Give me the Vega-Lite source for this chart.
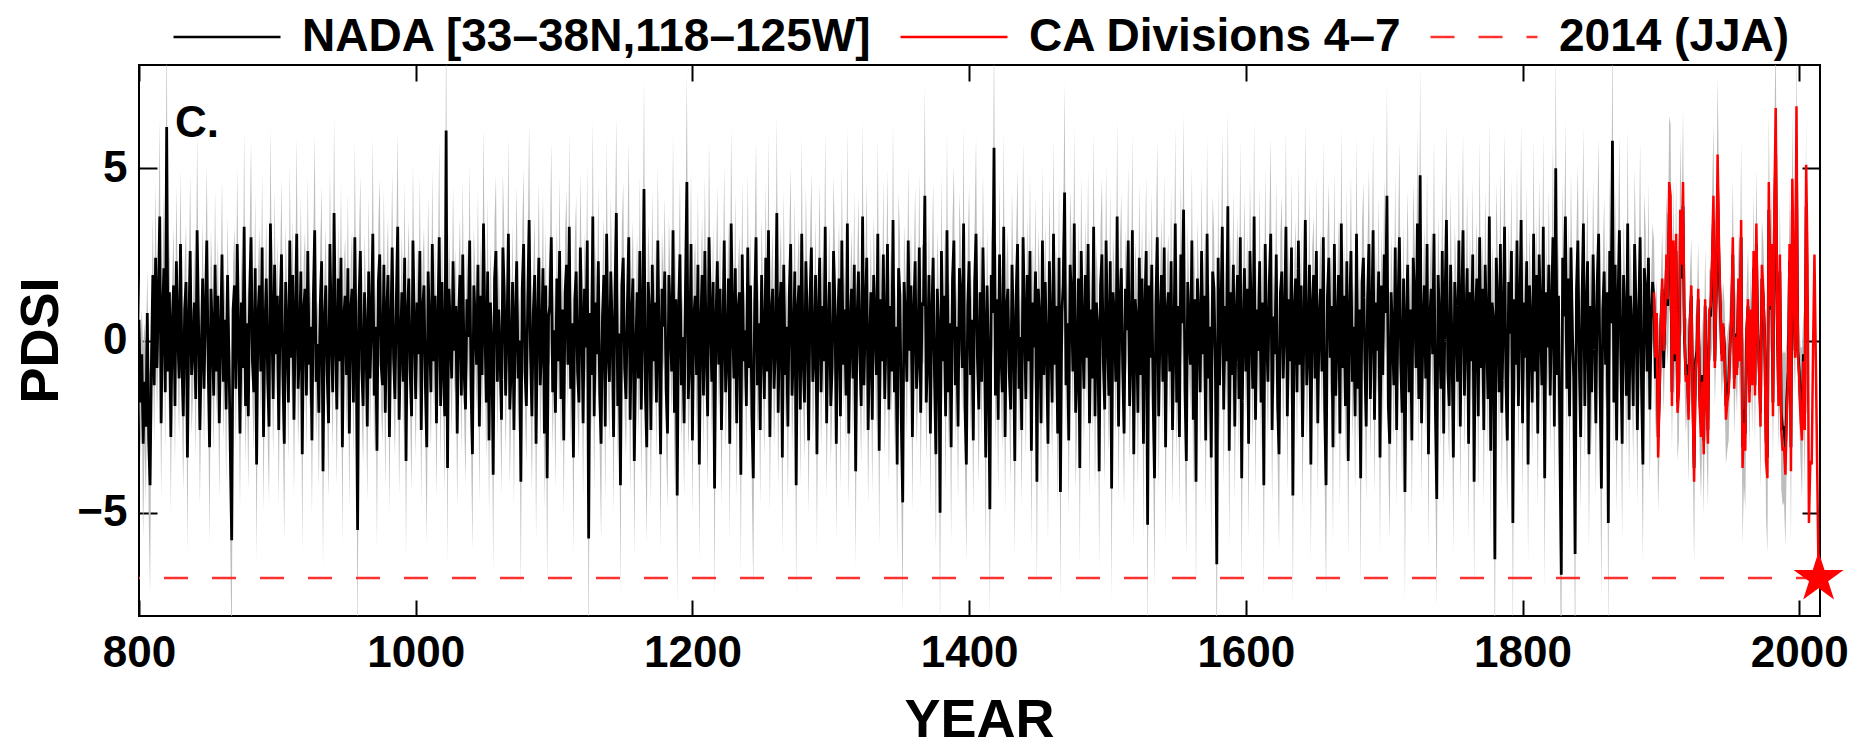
{
"$schema":"https://vega.github.io/schema/vega-lite/v6.json",
"width":1681,"height":551,"autosize":"none",
"padding":{"left":139,"top":65,"right":38,"bottom":133},
"background":"white",
"config":{"view":{"stroke":"#000000","strokeWidth":2},"font":"Liberation Sans",
"errorband":{"band":{"opacity":1}},
"axis":{"labelFont":"Liberation Sans","labelFontWeight":"bold","titleFont":"Liberation Sans","titleFontWeight":"bold","labelColor":"#000000","titleColor":"#000000","grid":false,"domain":false,"tickColor":"#000000","tickWidth":2}},
"datasets":{
"nada":[
{"t":800,"v":0.6,"e":1.3},{"t":801,"v":-1.8,"e":1.7},{"t":802,"v":-0.4,"e":1.3},{"t":803,"v":-3.0,"e":2.8},{"t":804,"v":-1.2,"e":1.7},{"t":805,"v":-2.5,"e":2.2},{"t":806,"v":0.8,"e":1.3},{"t":807,"v":-2.9,"e":2.2},{"t":808,"v":-4.2,"e":3.2},{"t":809,"v":-0.6,"e":1.3},
{"t":810,"v":1.9,"e":1.7},{"t":811,"v":-1.3,"e":1.7},{"t":812,"v":2.4,"e":2.2},{"t":813,"v":-0.8,"e":1.3},{"t":814,"v":1.2,"e":1.7},{"t":815,"v":3.6,"e":2.8},{"t":816,"v":-2.4,"e":2.2},{"t":817,"v":0.7,"e":1.3},{"t":818,"v":2.1,"e":2.2},{"t":819,"v":-1.5,"e":1.7},
{"t":820,"v":6.2,"e":3.5},{"t":821,"v":-0.9,"e":1.3},{"t":822,"v":1.4,"e":1.7},{"t":823,"v":-2.8,"e":2.2},{"t":824,"v":0.5,"e":1.3},{"t":825,"v":1.6,"e":1.7},{"t":826,"v":-1.9,"e":1.7},{"t":827,"v":2.3,"e":2.2},{"t":828,"v":0.2,"e":1.3},{"t":829,"v":-1.1,"e":1.7},
{"t":830,"v":2.8,"e":2.2},{"t":831,"v":-0.6,"e":1.3},{"t":832,"v":-2.2,"e":2.2},{"t":833,"v":0.9,"e":1.3},{"t":834,"v":1.7,"e":1.7},{"t":835,"v":-3.4,"e":2.8},{"t":836,"v":0.4,"e":1.3},{"t":837,"v":2.6,"e":2.2},{"t":838,"v":-1.0,"e":1.7},{"t":839,"v":-0.3,"e":1.3},
{"t":840,"v":1.1,"e":1.7},{"t":841,"v":-1.7,"e":1.7},{"t":842,"v":3.2,"e":2.8},{"t":843,"v":0.6,"e":1.3},{"t":844,"v":-2.6,"e":2.2},{"t":845,"v":-0.4,"e":1.3},{"t":846,"v":1.8,"e":1.7},{"t":847,"v":-1.4,"e":1.7},{"t":848,"v":0.8,"e":1.3},{"t":849,"v":2.9,"e":2.2},
{"t":850,"v":-0.7,"e":1.3},{"t":851,"v":-3.1,"e":2.8},{"t":852,"v":1.5,"e":1.7},{"t":853,"v":0.3,"e":1.3},{"t":854,"v":-1.6,"e":1.7},{"t":855,"v":2.2,"e":2.2},{"t":856,"v":-0.9,"e":1.3},{"t":857,"v":1.3,"e":1.7},{"t":858,"v":-2.4,"e":2.2},{"t":859,"v":0.1,"e":1.3},
{"t":860,"v":2.5,"e":2.2},{"t":861,"v":-1.2,"e":1.7},{"t":862,"v":0.6,"e":1.3},{"t":863,"v":-2.0,"e":2.2},{"t":864,"v":1.9,"e":1.7},{"t":865,"v":-0.5,"e":1.3},{"t":866,"v":-3.2,"e":2.8},{"t":867,"v":-5.8,"e":3.5},{"t":868,"v":0.9,"e":1.3},{"t":869,"v":1.6,"e":1.7},
{"t":870,"v":-1.4,"e":1.7},{"t":871,"v":2.8,"e":2.2},{"t":872,"v":0.2,"e":1.3},{"t":873,"v":-2.7,"e":2.2},{"t":874,"v":1.1,"e":1.7},{"t":875,"v":-0.8,"e":1.3},{"t":876,"v":3.3,"e":2.8},{"t":877,"v":-1.9,"e":1.7},{"t":878,"v":0.5,"e":1.3},{"t":879,"v":-2.2,"e":2.2},
{"t":880,"v":1.4,"e":1.7},{"t":881,"v":3.0,"e":2.8},{"t":882,"v":-0.6,"e":1.3},{"t":883,"v":-1.5,"e":1.7},{"t":884,"v":2.1,"e":2.2},{"t":885,"v":-3.6,"e":2.8},{"t":886,"v":0.7,"e":1.3},{"t":887,"v":1.6,"e":1.7},{"t":888,"v":-0.9,"e":1.3},{"t":889,"v":2.7,"e":2.2},
{"t":890,"v":-2.8,"e":2.2},{"t":891,"v":0.3,"e":1.3},{"t":892,"v":1.8,"e":1.7},{"t":893,"v":-1.1,"e":1.7},{"t":894,"v":-2.5,"e":2.2},{"t":895,"v":3.4,"e":2.8},{"t":896,"v":0.6,"e":1.3},{"t":897,"v":-1.7,"e":1.7},{"t":898,"v":2.2,"e":2.2},{"t":899,"v":-0.4,"e":1.3},
{"t":900,"v":1.3,"e":1.7},{"t":901,"v":-2.6,"e":2.2},{"t":902,"v":0.8,"e":1.3},{"t":903,"v":2.5,"e":2.2},{"t":904,"v":-1.0,"e":1.7},{"t":905,"v":-3.0,"e":2.8},{"t":906,"v":1.7,"e":1.7},{"t":907,"v":0.2,"e":1.3},{"t":908,"v":-1.8,"e":1.7},{"t":909,"v":2.9,"e":2.2},
{"t":910,"v":-0.5,"e":1.3},{"t":911,"v":1.9,"e":1.7},{"t":912,"v":-2.3,"e":2.2},{"t":913,"v":0.6,"e":1.3},{"t":914,"v":3.1,"e":2.8},{"t":915,"v":-1.4,"e":1.7},{"t":916,"v":-0.2,"e":1.3},{"t":917,"v":2.0,"e":2.2},{"t":918,"v":-3.3,"e":2.8},{"t":919,"v":0.9,"e":1.3},
{"t":920,"v":1.5,"e":1.7},{"t":921,"v":-1.6,"e":1.7},{"t":922,"v":2.6,"e":2.2},{"t":923,"v":-0.7,"e":1.3},{"t":924,"v":0.4,"e":1.3},{"t":925,"v":-2.9,"e":2.2},{"t":926,"v":1.2,"e":1.7},{"t":927,"v":3.2,"e":2.8},{"t":928,"v":-1.2,"e":1.7},{"t":929,"v":-0.1,"e":1.3},
{"t":930,"v":-2.1,"e":2.2},{"t":931,"v":1.0,"e":1.7},{"t":932,"v":2.3,"e":2.2},{"t":933,"v":-3.8,"e":2.8},{"t":934,"v":0.5,"e":1.3},{"t":935,"v":1.6,"e":1.7},{"t":936,"v":-0.9,"e":1.3},{"t":937,"v":-2.4,"e":2.2},{"t":938,"v":2.8,"e":2.2},{"t":939,"v":0.3,"e":1.3},
{"t":940,"v":-1.5,"e":1.7},{"t":941,"v":3.7,"e":2.8},{"t":942,"v":0.1,"e":1.3},{"t":943,"v":-2.0,"e":2.2},{"t":944,"v":1.8,"e":1.7},{"t":945,"v":-0.6,"e":1.3},{"t":946,"v":2.4,"e":2.2},{"t":947,"v":-3.1,"e":2.8},{"t":948,"v":0.7,"e":1.3},{"t":949,"v":1.3,"e":1.7},
{"t":950,"v":-1.0,"e":1.7},{"t":951,"v":2.1,"e":2.2},{"t":952,"v":-2.7,"e":2.2},{"t":953,"v":0.9,"e":1.3},{"t":954,"v":1.5,"e":1.7},{"t":955,"v":-1.8,"e":1.7},{"t":956,"v":3.0,"e":2.8},{"t":957,"v":-0.3,"e":1.3},{"t":958,"v":-5.5,"e":3.5},{"t":959,"v":1.1,"e":1.7},
{"t":960,"v":2.6,"e":2.2},{"t":961,"v":-0.8,"e":1.3},{"t":962,"v":-1.9,"e":1.7},{"t":963,"v":1.4,"e":1.7},{"t":964,"v":0.2,"e":1.3},{"t":965,"v":-2.5,"e":2.2},{"t":966,"v":2.0,"e":2.2},{"t":967,"v":-1.1,"e":1.7},{"t":968,"v":0.6,"e":1.3},{"t":969,"v":3.1,"e":2.8},
{"t":970,"v":-1.6,"e":1.7},{"t":971,"v":0.4,"e":1.3},{"t":972,"v":-3.2,"e":2.8},{"t":973,"v":1.7,"e":1.7},{"t":974,"v":2.5,"e":2.2},{"t":975,"v":-0.7,"e":1.3},{"t":976,"v":-1.3,"e":1.7},{"t":977,"v":2.2,"e":2.2},{"t":978,"v":-2.1,"e":2.2},{"t":979,"v":0.8,"e":1.3},
{"t":980,"v":1.9,"e":1.7},{"t":981,"v":-2.8,"e":2.2},{"t":982,"v":0.3,"e":1.3},{"t":983,"v":2.7,"e":2.2},{"t":984,"v":-0.5,"e":1.3},{"t":985,"v":-1.7,"e":1.7},{"t":986,"v":1.2,"e":1.7},{"t":987,"v":3.3,"e":2.8},{"t":988,"v":-2.3,"e":2.2},{"t":989,"v":-0.2,"e":1.3},
{"t":990,"v":1.4,"e":1.7},{"t":991,"v":-1.2,"e":1.7},{"t":992,"v":2.4,"e":2.2},{"t":993,"v":-3.5,"e":2.8},{"t":994,"v":0.7,"e":1.3},{"t":995,"v":1.8,"e":1.7},{"t":996,"v":-0.9,"e":1.3},{"t":997,"v":-2.2,"e":2.2},{"t":998,"v":2.9,"e":2.2},{"t":999,"v":0.5,"e":1.3},
{"t":1000,"v":-1.7,"e":1.7},{"t":1001,"v":1.1,"e":1.7},{"t":1002,"v":-0.4,"e":1.3},{"t":1003,"v":2.6,"e":2.2},{"t":1004,"v":-2.6,"e":2.2},{"t":1005,"v":0.9,"e":1.3},{"t":1006,"v":1.6,"e":1.7},{"t":1007,"v":-1.3,"e":1.7},{"t":1008,"v":-3.1,"e":2.8},{"t":1009,"v":2.0,"e":2.2},
{"t":1010,"v":0.2,"e":1.3},{"t":1011,"v":-1.5,"e":1.7},{"t":1012,"v":2.8,"e":2.2},{"t":1013,"v":-0.6,"e":1.3},{"t":1014,"v":1.3,"e":1.7},{"t":1015,"v":-2.4,"e":2.2},{"t":1016,"v":0.5,"e":1.3},{"t":1017,"v":3.0,"e":2.8},{"t":1018,"v":-1.9,"e":1.7},{"t":1019,"v":1.7,"e":1.7},
{"t":1020,"v":-0.8,"e":1.3},{"t":1021,"v":-2.2,"e":2.2},{"t":1022,"v":6.1,"e":3.5},{"t":1023,"v":-3.7,"e":2.8},{"t":1024,"v":1.5,"e":1.7},{"t":1025,"v":0.4,"e":1.3},{"t":1026,"v":-1.1,"e":1.7},{"t":1027,"v":2.3,"e":2.2},{"t":1028,"v":-0.3,"e":1.3},{"t":1029,"v":1.0,"e":1.7},
{"t":1030,"v":-2.7,"e":2.2},{"t":1031,"v":0.7,"e":1.3},{"t":1032,"v":1.9,"e":1.7},{"t":1033,"v":-1.6,"e":1.7},{"t":1034,"v":2.5,"e":2.2},{"t":1035,"v":-0.9,"e":1.3},{"t":1036,"v":-2.0,"e":2.2},{"t":1037,"v":1.2,"e":1.7},{"t":1038,"v":0.1,"e":1.3},{"t":1039,"v":2.9,"e":2.2},
{"t":1040,"v":-1.4,"e":1.7},{"t":1041,"v":-3.3,"e":2.8},{"t":1042,"v":1.6,"e":1.7},{"t":1043,"v":0.6,"e":1.3},{"t":1044,"v":-0.7,"e":1.3},{"t":1045,"v":2.2,"e":2.2},{"t":1046,"v":-2.5,"e":2.2},{"t":1047,"v":1.3,"e":1.7},{"t":1048,"v":-1.0,"e":1.7},{"t":1049,"v":3.4,"e":2.8},
{"t":1050,"v":0.4,"e":1.3},{"t":1051,"v":-1.8,"e":1.7},{"t":1052,"v":2.0,"e":2.2},{"t":1053,"v":-2.9,"e":2.2},{"t":1054,"v":1.1,"e":1.7},{"t":1055,"v":-0.2,"e":1.3},{"t":1056,"v":-3.9,"e":2.8},{"t":1057,"v":1.8,"e":1.7},{"t":1058,"v":2.6,"e":2.2},{"t":1059,"v":-1.2,"e":1.7},
{"t":1060,"v":0.9,"e":1.3},{"t":1061,"v":-0.5,"e":1.3},{"t":1062,"v":-2.3,"e":2.2},{"t":1063,"v":2.7,"e":2.2},{"t":1064,"v":1.4,"e":1.7},{"t":1065,"v":-1.6,"e":1.7},{"t":1066,"v":0.3,"e":1.3},{"t":1067,"v":3.1,"e":2.8},{"t":1068,"v":-2.0,"e":2.2},{"t":1069,"v":-0.8,"e":1.3},
{"t":1070,"v":1.7,"e":1.7},{"t":1071,"v":-2.6,"e":2.2},{"t":1072,"v":0.6,"e":1.3},{"t":1073,"v":2.3,"e":2.2},{"t":1074,"v":-1.1,"e":1.7},{"t":1075,"v":0.0,"e":1.3},{"t":1076,"v":-4.1,"e":3.2},{"t":1077,"v":1.5,"e":1.7},{"t":1078,"v":2.8,"e":2.2},{"t":1079,"v":-0.9,"e":1.3},
{"t":1080,"v":-1.9,"e":1.7},{"t":1081,"v":1.2,"e":1.7},{"t":1082,"v":3.5,"e":2.8},{"t":1083,"v":-0.4,"e":1.3},{"t":1084,"v":-2.2,"e":2.2},{"t":1085,"v":0.8,"e":1.3},{"t":1086,"v":1.9,"e":1.7},{"t":1087,"v":-3.0,"e":2.8},{"t":1088,"v":0.5,"e":1.3},{"t":1089,"v":2.4,"e":2.2},
{"t":1090,"v":-1.3,"e":1.7},{"t":1091,"v":-0.1,"e":1.3},{"t":1092,"v":2.1,"e":2.2},{"t":1093,"v":-2.7,"e":2.2},{"t":1094,"v":1.6,"e":1.7},{"t":1095,"v":-4.0,"e":3.2},{"t":1096,"v":0.7,"e":1.3},{"t":1097,"v":1.0,"e":1.7},{"t":1098,"v":3.0,"e":2.8},{"t":1099,"v":-1.5,"e":1.7},
{"t":1100,"v":0.3,"e":1.3},{"t":1101,"v":-2.1,"e":2.2},{"t":1102,"v":1.8,"e":1.7},{"t":1103,"v":-0.6,"e":1.3},{"t":1104,"v":2.6,"e":2.2},{"t":1105,"v":-1.7,"e":1.7},{"t":1106,"v":0.9,"e":1.3},{"t":1107,"v":-2.9,"e":2.2},{"t":1108,"v":1.4,"e":1.7},{"t":1109,"v":2.2,"e":2.2},
{"t":1110,"v":-0.7,"e":1.3},{"t":1111,"v":3.3,"e":2.8},{"t":1112,"v":-1.4,"e":1.7},{"t":1113,"v":0.5,"e":1.3},{"t":1114,"v":-3.4,"e":2.8},{"t":1115,"v":1.2,"e":1.7},{"t":1116,"v":2.0,"e":2.2},{"t":1117,"v":-0.9,"e":1.3},{"t":1118,"v":-1.8,"e":1.7},{"t":1119,"v":2.7,"e":2.2},
{"t":1120,"v":0.6,"e":1.3},{"t":1121,"v":-2.4,"e":2.2},{"t":1122,"v":1.5,"e":1.7},{"t":1123,"v":-0.2,"e":1.3},{"t":1124,"v":2.9,"e":2.2},{"t":1125,"v":-5.75,"e":3.5},{"t":1126,"v":0.8,"e":1.3},{"t":1127,"v":-1.0,"e":1.7},{"t":1128,"v":3.6,"e":2.8},{"t":1129,"v":-2.2,"e":2.2},
{"t":1130,"v":1.1,"e":1.7},{"t":1131,"v":-0.4,"e":1.3},{"t":1132,"v":2.3,"e":2.2},{"t":1133,"v":-1.6,"e":1.7},{"t":1134,"v":-3.0,"e":2.8},{"t":1135,"v":0.7,"e":1.3},{"t":1136,"v":1.9,"e":1.7},{"t":1137,"v":-2.5,"e":2.2},{"t":1138,"v":3.1,"e":2.8},{"t":1139,"v":-0.3,"e":1.3},
{"t":1140,"v":-1.2,"e":1.7},{"t":1141,"v":2.0,"e":2.2},{"t":1142,"v":0.4,"e":1.3},{"t":1143,"v":-2.8,"e":2.2},{"t":1144,"v":1.3,"e":1.7},{"t":1145,"v":3.7,"e":2.8},{"t":1146,"v":-1.9,"e":1.7},{"t":1147,"v":0.2,"e":1.3},{"t":1148,"v":-4.2,"e":3.2},{"t":1149,"v":1.6,"e":1.7},
{"t":1150,"v":2.4,"e":2.2},{"t":1151,"v":-0.8,"e":1.3},{"t":1152,"v":-1.7,"e":1.7},{"t":1153,"v":1.0,"e":1.7},{"t":1154,"v":3.0,"e":2.8},{"t":1155,"v":-2.3,"e":2.2},{"t":1156,"v":0.6,"e":1.3},{"t":1157,"v":1.8,"e":1.7},{"t":1158,"v":-3.5,"e":2.8},{"t":1159,"v":-0.5,"e":1.3},
{"t":1160,"v":1.4,"e":1.7},{"t":1161,"v":-1.1,"e":1.7},{"t":1162,"v":2.6,"e":2.2},{"t":1163,"v":-2.0,"e":2.2},{"t":1164,"v":0.3,"e":1.3},{"t":1165,"v":4.4,"e":3.2},{"t":1166,"v":-1.5,"e":1.7},{"t":1167,"v":-3.1,"e":2.8},{"t":1168,"v":1.7,"e":1.7},{"t":1169,"v":0.8,"e":1.3},
{"t":1170,"v":-2.6,"e":2.2},{"t":1171,"v":2.2,"e":2.2},{"t":1172,"v":-0.6,"e":1.3},{"t":1173,"v":1.1,"e":1.7},{"t":1174,"v":-1.8,"e":1.7},{"t":1175,"v":2.9,"e":2.2},{"t":1176,"v":-0.2,"e":1.3},{"t":1177,"v":-3.3,"e":2.8},{"t":1178,"v":1.5,"e":1.7},{"t":1179,"v":0.4,"e":1.3},
{"t":1180,"v":2.0,"e":2.2},{"t":1181,"v":-1.4,"e":1.7},{"t":1182,"v":-2.7,"e":2.2},{"t":1183,"v":1.9,"e":1.7},{"t":1184,"v":0.6,"e":1.3},{"t":1185,"v":-0.9,"e":1.3},{"t":1186,"v":3.2,"e":2.8},{"t":1187,"v":-2.1,"e":2.2},{"t":1188,"v":1.2,"e":1.7},{"t":1189,"v":-4.5,"e":3.2},
{"t":1190,"v":0.9,"e":1.3},{"t":1191,"v":2.5,"e":2.2},{"t":1192,"v":-1.3,"e":1.7},{"t":1193,"v":0.1,"e":1.3},{"t":1194,"v":-2.4,"e":2.2},{"t":1195,"v":1.6,"e":1.7},{"t":1196,"v":4.6,"e":3.2},{"t":1197,"v":-1.7,"e":1.7},{"t":1198,"v":-0.5,"e":1.3},{"t":1199,"v":2.8,"e":2.2},
{"t":1200,"v":-2.9,"e":2.2},{"t":1201,"v":0.7,"e":1.3},{"t":1202,"v":1.3,"e":1.7},{"t":1203,"v":-1.0,"e":1.7},{"t":1204,"v":2.2,"e":2.2},{"t":1205,"v":-3.6,"e":2.8},{"t":1206,"v":0.4,"e":1.3},{"t":1207,"v":1.9,"e":1.7},{"t":1208,"v":-1.6,"e":1.7},{"t":1209,"v":2.6,"e":2.2},
{"t":1210,"v":-0.3,"e":1.3},{"t":1211,"v":-2.2,"e":2.2},{"t":1212,"v":3.0,"e":2.8},{"t":1213,"v":0.8,"e":1.3},{"t":1214,"v":-1.2,"e":1.7},{"t":1215,"v":1.7,"e":1.7},{"t":1216,"v":-4.3,"e":3.2},{"t":1217,"v":0.5,"e":1.3},{"t":1218,"v":2.3,"e":2.2},{"t":1219,"v":-0.7,"e":1.3},
{"t":1220,"v":1.5,"e":1.7},{"t":1221,"v":-2.6,"e":2.2},{"t":1222,"v":0.2,"e":1.3},{"t":1223,"v":2.9,"e":2.2},{"t":1224,"v":-1.5,"e":1.7},{"t":1225,"v":-0.4,"e":1.3},{"t":1226,"v":1.8,"e":1.7},{"t":1227,"v":-3.0,"e":2.8},{"t":1228,"v":3.4,"e":2.8},{"t":1229,"v":0.6,"e":1.3},
{"t":1230,"v":-1.1,"e":1.7},{"t":1231,"v":2.1,"e":2.2},{"t":1232,"v":-2.4,"e":2.2},{"t":1233,"v":0.9,"e":1.3},{"t":1234,"v":1.4,"e":1.7},{"t":1235,"v":-3.9,"e":2.8},{"t":1236,"v":2.5,"e":2.2},{"t":1237,"v":-0.6,"e":1.3},{"t":1238,"v":0.3,"e":1.3},{"t":1239,"v":-1.9,"e":1.7},
{"t":1240,"v":2.7,"e":2.2},{"t":1241,"v":-0.8,"e":1.3},{"t":1242,"v":1.6,"e":1.7},{"t":1243,"v":-2.2,"e":2.2},{"t":1244,"v":-4.0,"e":3.2},{"t":1245,"v":1.1,"e":1.7},{"t":1246,"v":3.0,"e":2.8},{"t":1247,"v":-1.3,"e":1.7},{"t":1248,"v":0.5,"e":1.3},{"t":1249,"v":-2.6,"e":2.2},
{"t":1250,"v":1.9,"e":1.7},{"t":1251,"v":0.1,"e":1.3},{"t":1252,"v":-1.7,"e":1.7},{"t":1253,"v":2.4,"e":2.2},{"t":1254,"v":-0.9,"e":1.3},{"t":1255,"v":3.2,"e":2.8},{"t":1256,"v":-2.8,"e":2.2},{"t":1257,"v":0.7,"e":1.3},{"t":1258,"v":1.5,"e":1.7},{"t":1259,"v":-1.4,"e":1.7},
{"t":1260,"v":-0.2,"e":1.3},{"t":1261,"v":3.7,"e":2.8},{"t":1262,"v":-2.1,"e":2.2},{"t":1263,"v":0.8,"e":1.3},{"t":1264,"v":1.7,"e":1.7},{"t":1265,"v":-3.4,"e":2.8},{"t":1266,"v":2.2,"e":2.2},{"t":1267,"v":-1.0,"e":1.7},{"t":1268,"v":0.4,"e":1.3},{"t":1269,"v":-2.5,"e":2.2},
{"t":1270,"v":1.3,"e":1.7},{"t":1271,"v":2.8,"e":2.2},{"t":1272,"v":-1.6,"e":1.7},{"t":1273,"v":-0.3,"e":1.3},{"t":1274,"v":2.0,"e":2.2},{"t":1275,"v":-4.2,"e":3.2},{"t":1276,"v":0.9,"e":1.3},{"t":1277,"v":1.6,"e":1.7},{"t":1278,"v":-2.0,"e":2.2},{"t":1279,"v":3.1,"e":2.8},
{"t":1280,"v":-0.5,"e":1.3},{"t":1281,"v":-1.8,"e":1.7},{"t":1282,"v":2.3,"e":2.2},{"t":1283,"v":0.6,"e":1.3},{"t":1284,"v":-2.9,"e":2.2},{"t":1285,"v":1.2,"e":1.7},{"t":1286,"v":2.7,"e":2.2},{"t":1287,"v":-1.2,"e":1.7},{"t":1288,"v":-0.4,"e":1.3},{"t":1289,"v":1.9,"e":1.7},
{"t":1290,"v":-3.3,"e":2.8},{"t":1291,"v":0.7,"e":1.3},{"t":1292,"v":2.4,"e":2.2},{"t":1293,"v":-1.5,"e":1.7},{"t":1294,"v":1.0,"e":1.7},{"t":1295,"v":-0.6,"e":1.3},{"t":1296,"v":3.3,"e":2.8},{"t":1297,"v":-2.4,"e":2.2},{"t":1298,"v":0.2,"e":1.3},{"t":1299,"v":1.7,"e":1.7},
{"t":1300,"v":-1.9,"e":1.7},{"t":1301,"v":-0.8,"e":1.3},{"t":1302,"v":2.6,"e":2.2},{"t":1303,"v":1.1,"e":1.7},{"t":1304,"v":-3.0,"e":2.8},{"t":1305,"v":0.5,"e":1.3},{"t":1306,"v":1.8,"e":1.7},{"t":1307,"v":-2.2,"e":2.2},{"t":1308,"v":2.9,"e":2.2},{"t":1309,"v":-0.7,"e":1.3},
{"t":1310,"v":0.9,"e":1.3},{"t":1311,"v":-1.6,"e":1.7},{"t":1312,"v":3.4,"e":2.8},{"t":1313,"v":-2.7,"e":2.2},{"t":1314,"v":0.3,"e":1.3},{"t":1315,"v":1.5,"e":1.7},{"t":1316,"v":-1.1,"e":1.7},{"t":1317,"v":2.2,"e":2.2},{"t":1318,"v":-3.8,"e":2.8},{"t":1319,"v":0.6,"e":1.3},
{"t":1320,"v":2.0,"e":2.2},{"t":1321,"v":-0.4,"e":1.3},{"t":1322,"v":-1.9,"e":1.7},{"t":1323,"v":3.6,"e":2.8},{"t":1324,"v":-1.3,"e":1.7},{"t":1325,"v":0.8,"e":1.3},{"t":1326,"v":2.4,"e":2.2},{"t":1327,"v":-2.6,"e":2.2},{"t":1328,"v":-0.2,"e":1.3},{"t":1329,"v":1.4,"e":1.7},
{"t":1330,"v":-2.3,"e":2.2},{"t":1331,"v":1.9,"e":1.7},{"t":1332,"v":0.5,"e":1.3},{"t":1333,"v":-1.0,"e":1.7},{"t":1334,"v":3.1,"e":2.8},{"t":1335,"v":-3.2,"e":2.8},{"t":1336,"v":1.2,"e":1.7},{"t":1337,"v":-0.6,"e":1.3},{"t":1338,"v":2.5,"e":2.2},{"t":1339,"v":-1.7,"e":1.7},
{"t":1340,"v":0.2,"e":1.3},{"t":1341,"v":2.8,"e":2.2},{"t":1342,"v":-2.0,"e":2.2},{"t":1343,"v":1.0,"e":1.7},{"t":1344,"v":-0.9,"e":1.3},{"t":1345,"v":3.5,"e":2.8},{"t":1346,"v":-1.5,"e":1.7},{"t":1347,"v":0.4,"e":1.3},{"t":1348,"v":-3.6,"e":2.8},{"t":1349,"v":2.1,"e":2.2},
{"t":1350,"v":1.3,"e":1.7},{"t":1351,"v":-2.4,"e":2.2},{"t":1352,"v":-4.7,"e":3.2},{"t":1353,"v":1.7,"e":1.7},{"t":1354,"v":0.6,"e":1.3},{"t":1355,"v":-1.2,"e":1.7},{"t":1356,"v":2.9,"e":2.2},{"t":1357,"v":-0.3,"e":1.3},{"t":1358,"v":1.6,"e":1.7},{"t":1359,"v":-2.8,"e":2.2},
{"t":1360,"v":0.8,"e":1.3},{"t":1361,"v":2.3,"e":2.2},{"t":1362,"v":-1.4,"e":1.7},{"t":1363,"v":-0.5,"e":1.3},{"t":1364,"v":2.7,"e":2.2},{"t":1365,"v":-2.1,"e":2.2},{"t":1366,"v":1.1,"e":1.7},{"t":1367,"v":1.0,"e":1.7},{"t":1368,"v":4.2,"e":3.2},{"t":1369,"v":-1.8,"e":1.7},
{"t":1370,"v":-0.4,"e":1.3},{"t":1371,"v":1.9,"e":1.7},{"t":1372,"v":-2.7,"e":2.2},{"t":1373,"v":0.7,"e":1.3},{"t":1374,"v":2.4,"e":2.2},{"t":1375,"v":-1.1,"e":1.7},{"t":1376,"v":-3.3,"e":2.8},{"t":1377,"v":1.5,"e":1.7},{"t":1378,"v":0.2,"e":1.3},{"t":1379,"v":-5.0,"e":3.5},
{"t":1380,"v":2.6,"e":2.2},{"t":1381,"v":-0.6,"e":1.3},{"t":1382,"v":1.3,"e":1.7},{"t":1383,"v":-2.2,"e":2.2},{"t":1384,"v":3.2,"e":2.8},{"t":1385,"v":-1.5,"e":1.7},{"t":1386,"v":0.5,"e":1.3},{"t":1387,"v":-3.1,"e":2.8},{"t":1388,"v":1.8,"e":1.7},{"t":1389,"v":2.9,"e":2.2},
{"t":1390,"v":-1.3,"e":1.7},{"t":1391,"v":0.4,"e":1.3},{"t":1392,"v":-2.5,"e":2.2},{"t":1393,"v":2.1,"e":2.2},{"t":1394,"v":1.2,"e":1.7},{"t":1395,"v":-0.8,"e":1.3},{"t":1396,"v":3.4,"e":2.8},{"t":1397,"v":-1.9,"e":1.7},{"t":1398,"v":-3.6,"e":2.8},{"t":1399,"v":1.0,"e":1.7},
{"t":1400,"v":2.3,"e":2.2},{"t":1401,"v":-1.0,"e":1.7},{"t":1402,"v":0.6,"e":1.3},{"t":1403,"v":-2.9,"e":2.2},{"t":1404,"v":1.7,"e":1.7},{"t":1405,"v":3.1,"e":2.8},{"t":1406,"v":-0.5,"e":1.3},{"t":1407,"v":-2.0,"e":2.2},{"t":1408,"v":1.4,"e":1.7},{"t":1409,"v":-1.2,"e":1.7},
{"t":1410,"v":2.7,"e":2.2},{"t":1411,"v":0.3,"e":1.3},{"t":1412,"v":-3.4,"e":2.8},{"t":1413,"v":1.6,"e":1.7},{"t":1414,"v":-0.7,"e":1.3},{"t":1415,"v":-4.9,"e":3.2},{"t":1416,"v":1.9,"e":1.7},{"t":1417,"v":0.8,"e":1.3},{"t":1418,"v":5.6,"e":3.5},{"t":1419,"v":-1.6,"e":1.7},
{"t":1420,"v":1.2,"e":1.7},{"t":1421,"v":-2.3,"e":2.2},{"t":1422,"v":2.5,"e":2.2},{"t":1423,"v":-0.4,"e":1.3},{"t":1424,"v":-1.5,"e":1.7},{"t":1425,"v":3.3,"e":2.8},{"t":1426,"v":-2.8,"e":2.2},{"t":1427,"v":0.9,"e":1.3},{"t":1428,"v":1.5,"e":1.7},{"t":1429,"v":-0.9,"e":1.3},
{"t":1430,"v":-2.0,"e":2.2},{"t":1431,"v":2.2,"e":2.2},{"t":1432,"v":0.4,"e":1.3},{"t":1433,"v":-3.5,"e":2.8},{"t":1434,"v":1.3,"e":1.7},{"t":1435,"v":2.8,"e":2.2},{"t":1436,"v":-1.4,"e":1.7},{"t":1437,"v":0.1,"e":1.3},{"t":1438,"v":-2.6,"e":2.2},{"t":1439,"v":3.0,"e":2.8},
{"t":1440,"v":0.7,"e":1.3},{"t":1441,"v":-1.7,"e":1.7},{"t":1442,"v":1.9,"e":1.7},{"t":1443,"v":-0.6,"e":1.3},{"t":1444,"v":2.6,"e":2.2},{"t":1445,"v":-3.2,"e":2.8},{"t":1446,"v":1.1,"e":1.7},{"t":1447,"v":-0.2,"e":1.3},{"t":1448,"v":2.0,"e":2.2},{"t":1449,"v":-4.1,"e":3.2},
{"t":1450,"v":1.5,"e":1.7},{"t":1451,"v":0.6,"e":1.3},{"t":1452,"v":-2.4,"e":2.2},{"t":1453,"v":2.9,"e":2.2},{"t":1454,"v":-1.0,"e":1.7},{"t":1455,"v":1.7,"e":1.7},{"t":1456,"v":-0.3,"e":1.3},{"t":1457,"v":-3.0,"e":2.8},{"t":1458,"v":2.3,"e":2.2},{"t":1459,"v":0.2,"e":1.3},
{"t":1460,"v":-1.8,"e":1.7},{"t":1461,"v":3.1,"e":2.8},{"t":1462,"v":-0.7,"e":1.3},{"t":1463,"v":1.0,"e":1.7},{"t":1464,"v":-2.7,"e":2.2},{"t":1465,"v":2.4,"e":2.2},{"t":1466,"v":-4.4,"e":3.2},{"t":1467,"v":0.8,"e":1.3},{"t":1468,"v":1.6,"e":1.7},{"t":1469,"v":4.3,"e":3.2},
{"t":1470,"v":-1.3,"e":1.7},{"t":1471,"v":0.5,"e":1.3},{"t":1472,"v":-2.9,"e":2.2},{"t":1473,"v":2.2,"e":2.2},{"t":1474,"v":1.3,"e":1.7},{"t":1475,"v":-0.9,"e":1.3},{"t":1476,"v":3.4,"e":2.8},{"t":1477,"v":-2.1,"e":2.2},{"t":1478,"v":-1.0,"e":1.7},{"t":1479,"v":1.8,"e":1.7},
{"t":1480,"v":-3.7,"e":2.8},{"t":1481,"v":2.6,"e":2.2},{"t":1482,"v":0.3,"e":1.3},{"t":1483,"v":-1.4,"e":1.7},{"t":1484,"v":1.9,"e":1.7},{"t":1485,"v":-0.5,"e":1.3},{"t":1486,"v":2.8,"e":2.2},{"t":1487,"v":-2.4,"e":2.2},{"t":1488,"v":0.9,"e":1.3},{"t":1489,"v":-1.1,"e":1.7},
{"t":1490,"v":3.3,"e":2.8},{"t":1491,"v":-2.2,"e":2.2},{"t":1492,"v":1.1,"e":1.7},{"t":1493,"v":0.4,"e":1.3},{"t":1494,"v":-3.8,"e":2.8},{"t":1495,"v":1.6,"e":1.7},{"t":1496,"v":2.5,"e":2.2},{"t":1497,"v":-0.6,"e":1.3},{"t":1498,"v":-2.0,"e":2.2},{"t":1499,"v":2.9,"e":2.2},
{"t":1500,"v":0.1,"e":1.3},{"t":1501,"v":-1.6,"e":1.7},{"t":1502,"v":2.3,"e":2.2},{"t":1503,"v":-4.3,"e":3.2},{"t":1504,"v":1.4,"e":1.7},{"t":1505,"v":0.7,"e":1.3},{"t":1506,"v":-1.2,"e":1.7},{"t":1507,"v":3.6,"e":2.8},{"t":1508,"v":-2.5,"e":2.2},{"t":1509,"v":1.0,"e":1.7},
{"t":1510,"v":2.1,"e":2.2},{"t":1511,"v":-0.8,"e":1.3},{"t":1512,"v":-2.7,"e":2.2},{"t":1513,"v":1.5,"e":1.7},{"t":1514,"v":0.3,"e":1.3},{"t":1515,"v":2.9,"e":2.2},{"t":1516,"v":-1.9,"e":1.7},{"t":1517,"v":-0.4,"e":1.3},{"t":1518,"v":3.2,"e":2.8},{"t":1519,"v":-3.3,"e":2.8},
{"t":1520,"v":1.2,"e":1.7},{"t":1521,"v":0.6,"e":1.3},{"t":1522,"v":-2.1,"e":2.2},{"t":1523,"v":2.4,"e":2.2},{"t":1524,"v":-1.0,"e":1.7},{"t":1525,"v":1.8,"e":1.7},{"t":1526,"v":-3.0,"e":2.8},{"t":1527,"v":0.9,"e":1.3},{"t":1528,"v":2.6,"e":2.2},{"t":1529,"v":-5.35,"e":3.5},
{"t":1530,"v":1.6,"e":1.7},{"t":1531,"v":-0.5,"e":1.3},{"t":1532,"v":2.2,"e":2.2},{"t":1533,"v":-1.7,"e":1.7},{"t":1534,"v":-4.0,"e":3.2},{"t":1535,"v":1.1,"e":1.7},{"t":1536,"v":3.0,"e":2.8},{"t":1537,"v":-2.2,"e":2.2},{"t":1538,"v":0.4,"e":1.3},{"t":1539,"v":1.9,"e":1.7},
{"t":1540,"v":-1.2,"e":1.7},{"t":1541,"v":2.7,"e":2.2},{"t":1542,"v":-3.1,"e":2.8},{"t":1543,"v":0.8,"e":1.3},{"t":1544,"v":1.4,"e":1.7},{"t":1545,"v":-0.9,"e":1.3},{"t":1546,"v":2.3,"e":2.2},{"t":1547,"v":-2.6,"e":2.2},{"t":1548,"v":-0.1,"e":1.3},{"t":1549,"v":3.4,"e":2.8},
{"t":1550,"v":-1.8,"e":1.7},{"t":1551,"v":1.0,"e":1.7},{"t":1552,"v":-2.8,"e":2.2},{"t":1553,"v":2.5,"e":2.2},{"t":1554,"v":0.5,"e":1.3},{"t":1555,"v":3.8,"e":2.8},{"t":1556,"v":-1.4,"e":1.7},{"t":1557,"v":-3.5,"e":2.8},{"t":1558,"v":1.7,"e":1.7},{"t":1559,"v":0.2,"e":1.3},
{"t":1560,"v":-0.7,"e":1.3},{"t":1561,"v":2.9,"e":2.2},{"t":1562,"v":-2.3,"e":2.2},{"t":1563,"v":1.2,"e":1.7},{"t":1564,"v":-4.1,"e":3.2},{"t":1565,"v":1.8,"e":1.7},{"t":1566,"v":0.6,"e":1.3},{"t":1567,"v":-1.5,"e":1.7},{"t":1568,"v":2.6,"e":2.2},{"t":1569,"v":-0.4,"e":1.3},
{"t":1570,"v":1.3,"e":1.7},{"t":1571,"v":-2.9,"e":2.2},{"t":1572,"v":3.1,"e":2.8},{"t":1573,"v":-1.1,"e":1.7},{"t":1574,"v":0.4,"e":1.3},{"t":1575,"v":-3.4,"e":2.8},{"t":1576,"v":2.0,"e":2.2},{"t":1577,"v":1.5,"e":1.7},{"t":1578,"v":-0.8,"e":1.3},{"t":1579,"v":-6.5,"e":3.5},
{"t":1580,"v":2.4,"e":2.2},{"t":1581,"v":-1.3,"e":1.7},{"t":1582,"v":0.8,"e":1.3},{"t":1583,"v":3.3,"e":2.8},{"t":1584,"v":-2.0,"e":2.2},{"t":1585,"v":1.0,"e":1.7},{"t":1586,"v":-0.6,"e":1.3},{"t":1587,"v":3.9,"e":2.8},{"t":1588,"v":-3.2,"e":2.8},{"t":1589,"v":1.4,"e":1.7},
{"t":1590,"v":-1.0,"e":1.7},{"t":1591,"v":2.2,"e":2.2},{"t":1592,"v":-2.5,"e":2.2},{"t":1593,"v":0.7,"e":1.3},{"t":1594,"v":1.9,"e":1.7},{"t":1595,"v":-1.7,"e":1.7},{"t":1596,"v":3.0,"e":2.8},{"t":1597,"v":-4.0,"e":3.2},{"t":1598,"v":0.3,"e":1.3},{"t":1599,"v":2.1,"e":2.2},
{"t":1600,"v":-0.9,"e":1.3},{"t":1601,"v":1.5,"e":1.7},{"t":1602,"v":-3.0,"e":2.8},{"t":1603,"v":2.6,"e":2.2},{"t":1604,"v":0.6,"e":1.3},{"t":1605,"v":-1.4,"e":1.7},{"t":1606,"v":3.6,"e":2.8},{"t":1607,"v":-2.3,"e":2.2},{"t":1608,"v":0.9,"e":1.3},{"t":1609,"v":-0.3,"e":1.3},
{"t":1610,"v":2.3,"e":2.2},{"t":1611,"v":-1.8,"e":1.7},{"t":1612,"v":1.1,"e":1.7},{"t":1613,"v":-4.2,"e":3.2},{"t":1614,"v":2.8,"e":2.2},{"t":1615,"v":0.2,"e":1.3},{"t":1616,"v":-1.2,"e":1.7},{"t":1617,"v":1.7,"e":1.7},{"t":1618,"v":3.1,"e":2.8},{"t":1619,"v":-2.6,"e":2.2},
{"t":1620,"v":0.7,"e":1.3},{"t":1621,"v":-0.4,"e":1.3},{"t":1622,"v":2.5,"e":2.2},{"t":1623,"v":-1.9,"e":1.7},{"t":1624,"v":-3.3,"e":2.8},{"t":1625,"v":1.4,"e":1.7},{"t":1626,"v":2.0,"e":2.2},{"t":1627,"v":-1.1,"e":1.7},{"t":1628,"v":0.5,"e":1.3},{"t":1629,"v":3.3,"e":2.8},
{"t":1630,"v":-2.2,"e":2.2},{"t":1631,"v":1.2,"e":1.7},{"t":1632,"v":-0.6,"e":1.3},{"t":1633,"v":2.7,"e":2.2},{"t":1634,"v":-4.5,"e":3.2},{"t":1635,"v":0.9,"e":1.3},{"t":1636,"v":1.8,"e":1.7},{"t":1637,"v":-1.5,"e":1.7},{"t":1638,"v":2.9,"e":2.2},{"t":1639,"v":-0.7,"e":1.3},
{"t":1640,"v":1.6,"e":1.7},{"t":1641,"v":-2.8,"e":2.2},{"t":1642,"v":0.4,"e":1.3},{"t":1643,"v":3.5,"e":2.8},{"t":1644,"v":-1.3,"e":1.7},{"t":1645,"v":-0.2,"e":1.3},{"t":1646,"v":2.2,"e":2.2},{"t":1647,"v":-3.6,"e":2.8},{"t":1648,"v":1.0,"e":1.7},{"t":1649,"v":1.9,"e":1.7},
{"t":1650,"v":-1.1,"e":1.7},{"t":1651,"v":2.6,"e":2.2},{"t":1652,"v":-2.4,"e":2.2},{"t":1653,"v":0.6,"e":1.3},{"t":1654,"v":1.5,"e":1.7},{"t":1655,"v":-0.9,"e":1.3},{"t":1656,"v":3.0,"e":2.8},{"t":1657,"v":-2.0,"e":2.2},{"t":1658,"v":-4.2,"e":3.2},{"t":1659,"v":1.3,"e":1.7},
{"t":1660,"v":2.4,"e":2.2},{"t":1661,"v":-0.5,"e":1.3},{"t":1662,"v":1.0,"e":1.7},{"t":1663,"v":-3.1,"e":2.8},{"t":1664,"v":2.8,"e":2.2},{"t":1665,"v":-1.6,"e":1.7},{"t":1666,"v":0.3,"e":1.3},{"t":1667,"v":1.9,"e":1.7},{"t":1668,"v":-2.7,"e":2.2},{"t":1669,"v":3.4,"e":2.8},
{"t":1670,"v":-0.8,"e":1.3},{"t":1671,"v":1.3,"e":1.7},{"t":1672,"v":-1.9,"e":1.7},{"t":1673,"v":2.3,"e":2.2},{"t":1674,"v":-3.5,"e":2.8},{"t":1675,"v":0.7,"e":1.3},{"t":1676,"v":2.6,"e":2.2},{"t":1677,"v":-1.2,"e":1.7},{"t":1678,"v":0.4,"e":1.3},{"t":1679,"v":-2.2,"e":2.2},
{"t":1680,"v":3.1,"e":2.8},{"t":1681,"v":-1.4,"e":1.7},{"t":1682,"v":0.9,"e":1.3},{"t":1683,"v":-4.0,"e":3.2},{"t":1684,"v":1.7,"e":1.7},{"t":1685,"v":2.4,"e":2.2},{"t":1686,"v":-0.6,"e":1.3},{"t":1687,"v":-2.5,"e":2.2},{"t":1688,"v":1.2,"e":1.7},{"t":1689,"v":2.8,"e":2.2},
{"t":1690,"v":-1.7,"e":1.7},{"t":1691,"v":0.5,"e":1.3},{"t":1692,"v":3.2,"e":2.8},{"t":1693,"v":-2.3,"e":2.2},{"t":1694,"v":1.1,"e":1.7},{"t":1695,"v":-0.3,"e":1.3},{"t":1696,"v":2.0,"e":2.2},{"t":1697,"v":-3.4,"e":2.8},{"t":1698,"v":1.6,"e":1.7},{"t":1699,"v":-1.0,"e":1.7},
{"t":1700,"v":2.5,"e":2.2},{"t":1701,"v":0.8,"e":1.3},{"t":1702,"v":4.2,"e":3.2},{"t":1703,"v":-1.9,"e":1.7},{"t":1704,"v":-3.0,"e":2.8},{"t":1705,"v":1.4,"e":1.7},{"t":1706,"v":0.2,"e":1.3},{"t":1707,"v":-1.3,"e":1.7},{"t":1708,"v":2.7,"e":2.2},{"t":1709,"v":-2.6,"e":2.2},
{"t":1710,"v":1.0,"e":1.7},{"t":1711,"v":3.0,"e":2.8},{"t":1712,"v":-0.7,"e":1.3},{"t":1713,"v":-2.1,"e":2.2},{"t":1714,"v":1.8,"e":1.7},{"t":1715,"v":-4.4,"e":3.2},{"t":1716,"v":0.6,"e":1.3},{"t":1717,"v":2.2,"e":2.2},{"t":1718,"v":-1.5,"e":1.7},{"t":1719,"v":0.9,"e":1.3},
{"t":1720,"v":-2.9,"e":2.2},{"t":1721,"v":2.4,"e":2.2},{"t":1722,"v":1.2,"e":1.7},{"t":1723,"v":-0.8,"e":1.3},{"t":1724,"v":3.4,"e":2.8},{"t":1725,"v":-1.7,"e":1.7},{"t":1726,"v":4.8,"e":3.2},{"t":1727,"v":-2.4,"e":2.2},{"t":1728,"v":0.3,"e":1.3},{"t":1729,"v":1.6,"e":1.7},
{"t":1730,"v":-1.1,"e":1.7},{"t":1731,"v":2.8,"e":2.2},{"t":1732,"v":-3.3,"e":2.8},{"t":1733,"v":0.7,"e":1.3},{"t":1734,"v":1.5,"e":1.7},{"t":1735,"v":-0.4,"e":1.3},{"t":1736,"v":3.1,"e":2.8},{"t":1737,"v":-2.0,"e":2.2},{"t":1738,"v":-4.6,"e":3.2},{"t":1739,"v":1.9,"e":1.7},
{"t":1740,"v":0.5,"e":1.3},{"t":1741,"v":-1.4,"e":1.7},{"t":1742,"v":2.6,"e":2.2},{"t":1743,"v":-2.7,"e":2.2},{"t":1744,"v":1.2,"e":1.7},{"t":1745,"v":3.5,"e":2.8},{"t":1746,"v":-0.9,"e":1.3},{"t":1747,"v":-1.9,"e":1.7},{"t":1748,"v":2.2,"e":2.2},{"t":1749,"v":-0.2,"e":1.3},
{"t":1750,"v":-3.4,"e":2.8},{"t":1751,"v":1.7,"e":1.7},{"t":1752,"v":0.8,"e":1.3},{"t":1753,"v":-1.2,"e":1.7},{"t":1754,"v":2.9,"e":2.2},{"t":1755,"v":-2.5,"e":2.2},{"t":1756,"v":1.0,"e":1.7},{"t":1757,"v":3.2,"e":2.8},{"t":1758,"v":-1.6,"e":1.7},{"t":1759,"v":0.4,"e":1.3},
{"t":1760,"v":2.1,"e":2.2},{"t":1761,"v":-3.0,"e":2.8},{"t":1762,"v":1.4,"e":1.7},{"t":1763,"v":-0.6,"e":1.3},{"t":1764,"v":2.5,"e":2.2},{"t":1765,"v":-4.1,"e":3.2},{"t":1766,"v":0.9,"e":1.3},{"t":1767,"v":1.8,"e":1.7},{"t":1768,"v":-2.2,"e":2.2},{"t":1769,"v":3.0,"e":2.8},
{"t":1770,"v":-0.8,"e":1.3},{"t":1771,"v":1.5,"e":1.7},{"t":1772,"v":-2.6,"e":2.2},{"t":1773,"v":2.2,"e":2.2},{"t":1774,"v":0.3,"e":1.3},{"t":1775,"v":-1.7,"e":1.7},{"t":1776,"v":3.6,"e":2.8},{"t":1777,"v":-3.2,"e":2.8},{"t":1778,"v":1.1,"e":1.7},{"t":1779,"v":0.6,"e":1.3},
{"t":1780,"v":-6.35,"e":3.5},{"t":1781,"v":2.4,"e":2.2},{"t":1782,"v":1.0,"e":1.7},{"t":1783,"v":-1.5,"e":1.7},{"t":1784,"v":2.8,"e":2.2},{"t":1785,"v":-2.1,"e":2.2},{"t":1786,"v":0.5,"e":1.3},{"t":1787,"v":3.3,"e":2.8},{"t":1788,"v":-1.2,"e":1.7},{"t":1789,"v":-2.9,"e":2.2},
{"t":1790,"v":1.7,"e":1.7},{"t":1791,"v":0.2,"e":1.3},{"t":1792,"v":2.6,"e":2.2},{"t":1793,"v":-5.3,"e":3.5},{"t":1794,"v":1.2,"e":1.7},{"t":1795,"v":-0.7,"e":1.3},{"t":1796,"v":2.9,"e":2.2},{"t":1797,"v":-1.9,"e":1.7},{"t":1798,"v":0.8,"e":1.3},{"t":1799,"v":3.5,"e":2.8},
{"t":1800,"v":-2.4,"e":2.2},{"t":1801,"v":1.1,"e":1.7},{"t":1802,"v":-0.5,"e":1.3},{"t":1803,"v":2.3,"e":2.2},{"t":1804,"v":-3.6,"e":2.8},{"t":1805,"v":1.6,"e":1.7},{"t":1806,"v":0.4,"e":1.3},{"t":1807,"v":-1.8,"e":1.7},{"t":1808,"v":3.1,"e":2.8},{"t":1809,"v":-0.9,"e":1.3},
{"t":1810,"v":1.9,"e":1.7},{"t":1811,"v":-2.7,"e":2.2},{"t":1812,"v":2.5,"e":2.2},{"t":1813,"v":0.6,"e":1.3},{"t":1814,"v":-1.3,"e":1.7},{"t":1815,"v":3.3,"e":2.8},{"t":1816,"v":-4.0,"e":3.2},{"t":1817,"v":1.4,"e":1.7},{"t":1818,"v":-0.2,"e":1.3},{"t":1819,"v":2.2,"e":2.2},
{"t":1820,"v":-1.6,"e":1.7},{"t":1821,"v":0.9,"e":1.3},{"t":1822,"v":3.0,"e":2.8},{"t":1823,"v":-2.5,"e":2.2},{"t":1824,"v":5.0,"e":3.5},{"t":1825,"v":-1.0,"e":1.7},{"t":1826,"v":1.3,"e":1.7},{"t":1827,"v":-3.1,"e":2.8},{"t":1828,"v":-6.8,"e":3.5},{"t":1829,"v":2.4,"e":2.2},
{"t":1830,"v":0.7,"e":1.3},{"t":1831,"v":3.6,"e":2.8},{"t":1832,"v":-1.4,"e":1.7},{"t":1833,"v":1.8,"e":1.7},{"t":1834,"v":-2.2,"e":2.2},{"t":1835,"v":2.7,"e":2.2},{"t":1836,"v":0.3,"e":1.3},{"t":1837,"v":-1.1,"e":1.7},{"t":1838,"v":-6.2,"e":3.5},{"t":1839,"v":1.5,"e":1.7},
{"t":1840,"v":2.9,"e":2.2},{"t":1841,"v":-0.6,"e":1.3},{"t":1842,"v":-2.8,"e":2.2},{"t":1843,"v":1.2,"e":1.7},{"t":1844,"v":3.4,"e":2.8},{"t":1845,"v":-1.9,"e":1.7},{"t":1846,"v":0.8,"e":1.3},{"t":1847,"v":2.3,"e":2.2},{"t":1848,"v":-3.3,"e":2.8},{"t":1849,"v":1.0,"e":1.7},
{"t":1850,"v":-1.5,"e":1.7},{"t":1851,"v":2.5,"e":2.2},{"t":1852,"v":0.4,"e":1.3},{"t":1853,"v":-2.4,"e":2.2},{"t":1854,"v":1.7,"e":1.7},{"t":1855,"v":3.1,"e":2.8},{"t":1856,"v":-1.2,"e":1.7},{"t":1857,"v":-4.3,"e":3.2},{"t":1858,"v":0.9,"e":1.3},{"t":1859,"v":2.0,"e":2.2},
{"t":1860,"v":-0.7,"e":1.3},{"t":1861,"v":1.4,"e":1.7},{"t":1862,"v":-5.3,"e":3.5},{"t":1863,"v":2.6,"e":2.2},{"t":1864,"v":0.5,"e":1.3},{"t":1865,"v":5.8,"e":3.5},{"t":1866,"v":-1.8,"e":1.7},{"t":1867,"v":2.2,"e":2.2},{"t":1868,"v":-2.9,"e":2.2},{"t":1869,"v":1.1,"e":1.7},
{"t":1870,"v":3.2,"e":2.8},{"t":1871,"v":-0.4,"e":1.3},{"t":1872,"v":-3.0,"e":2.8},{"t":1873,"v":1.9,"e":1.7},{"t":1874,"v":0.6,"e":1.3},{"t":1875,"v":-1.6,"e":1.7},{"t":1876,"v":3.4,"e":2.8},{"t":1877,"v":-2.3,"e":2.2},{"t":1878,"v":1.3,"e":1.7},{"t":1879,"v":0.2,"e":1.3},
{"t":1880,"v":-1.9,"e":1.7},{"t":1881,"v":2.8,"e":2.2},{"t":1882,"v":1.0,"e":1.7},{"t":1883,"v":-2.6,"e":2.2},{"t":1884,"v":0.8,"e":1.3},{"t":1885,"v":3.0,"e":2.8},{"t":1886,"v":-1.3,"e":1.7},{"t":1887,"v":-3.6,"e":2.8},{"t":1888,"v":2.1,"e":2.2},{"t":1889,"v":1.5,"e":1.7},
{"t":1890,"v":-0.9,"e":1.3},{"t":1891,"v":2.4,"e":2.2},{"t":1892,"v":-2.0,"e":2.2},{"t":1893,"v":0.6,"e":1.3},{"t":1894,"v":1.7,"e":1.7},{"t":1895,"v":1.2,"e":1.7},{"t":1896,"v":-1.1,"e":1.7},{"t":1897,"v":0.5,"e":1.3},{"t":1898,"v":-2.8,"e":2.2},{"t":1899,"v":-1.5,"e":1.7},
{"t":1900,"v":0.6,"e":1.3},{"t":1901,"v":1.5,"e":1.7},{"t":1902,"v":-0.8,"e":1.3},{"t":1903,"v":0.9,"e":1.3},{"t":1904,"v":2.1,"e":2.2},{"t":1905,"v":1.0,"e":1.7},{"t":1906,"v":3.7,"e":2.8},{"t":1907,"v":3.5,"e":2.8},{"t":1908,"v":-1.5,"e":1.7},{"t":1909,"v":2.4,"e":2.2},
{"t":1910,"v":-0.6,"e":1.3},{"t":1911,"v":2.6,"e":2.2},{"t":1912,"v":-1.8,"e":1.7},{"t":1913,"v":-1.2,"e":1.7},{"t":1914,"v":3.1,"e":2.8},{"t":1915,"v":1.8,"e":1.7},{"t":1916,"v":3.9,"e":2.8},{"t":1917,"v":0.1,"e":1.3},{"t":1918,"v":-1.0,"e":1.7},{"t":1919,"v":-0.7,"e":1.3},
{"t":1920,"v":-2.0,"e":2.2},{"t":1921,"v":0.6,"e":1.3},{"t":1922,"v":1.3,"e":1.7},{"t":1923,"v":-1.5,"e":1.7},{"t":1924,"v":-3.7,"e":2.8},{"t":1925,"v":-0.6,"e":1.3},{"t":1926,"v":-0.3,"e":1.3},{"t":1927,"v":1.2,"e":1.7},{"t":1928,"v":-1.6,"e":1.7},{"t":1929,"v":-2.4,"e":2.2},
{"t":1930,"v":-1.0,"e":1.7},{"t":1931,"v":-2.9,"e":2.2},{"t":1932,"v":1.0,"e":1.7},{"t":1933,"v":-1.4,"e":1.7},{"t":1934,"v":-2.6,"e":2.2},{"t":1935,"v":0.8,"e":1.3},{"t":1936,"v":0.7,"e":1.3},{"t":1937,"v":2.0,"e":2.2},{"t":1938,"v":3.5,"e":2.8},{"t":1939,"v":-0.6,"e":1.3},
{"t":1940,"v":1.3,"e":1.7},{"t":1941,"v":4.5,"e":3.2},{"t":1942,"v":2.2,"e":2.2},{"t":1943,"v":0.9,"e":1.3},{"t":1944,"v":-0.4,"e":1.3},{"t":1945,"v":0.4,"e":1.3},{"t":1946,"v":-0.2,"e":1.3},{"t":1947,"v":-1.9,"e":1.7},{"t":1948,"v":-1.5,"e":1.7},{"t":1949,"v":-1.2,"e":1.7},
{"t":1950,"v":-0.1,"e":1.3},{"t":1951,"v":0.6,"e":1.3},{"t":1952,"v":2.5,"e":2.2},{"t":1953,"v":-1.1,"e":1.7},{"t":1954,"v":0.2,"e":1.3},{"t":1955,"v":-0.8,"e":1.3},{"t":1956,"v":1.5,"e":1.7},{"t":1957,"v":-0.4,"e":1.3},{"t":1958,"v":3.0,"e":2.8},{"t":1959,"v":-3.1,"e":2.8},
{"t":1960,"v":-2.0,"e":2.2},{"t":1961,"v":-2.7,"e":2.2},{"t":1962,"v":0.3,"e":1.3},{"t":1963,"v":1.0,"e":1.7},{"t":1964,"v":-1.5,"e":1.7},{"t":1965,"v":0.8,"e":1.3},{"t":1966,"v":-1.0,"e":1.7},{"t":1967,"v":2.1,"e":2.2},{"t":1968,"v":-1.3,"e":1.7},{"t":1969,"v":2.8,"e":2.2},
{"t":1970,"v":0.3,"e":1.3},{"t":1971,"v":-0.7,"e":1.3},{"t":1972,"v":-2.1,"e":2.2},{"t":1973,"v":1.8,"e":1.7},{"t":1974,"v":1.2,"e":1.7},{"t":1975,"v":0.2,"e":1.3},{"t":1976,"v":-2.9,"e":2.2},{"t":1977,"v":-3.4,"e":2.8},{"t":1978,"v":3.8,"e":2.8},{"t":1979,"v":0.9,"e":1.3},
{"t":1980,"v":2.3,"e":2.2},{"t":1981,"v":-1.8,"e":1.7},{"t":1982,"v":3.2,"e":2.8},{"t":1983,"v":5.4,"e":3.5},{"t":1984,"v":0.7,"e":1.3},{"t":1985,"v":-1.5,"e":1.7},{"t":1986,"v":2.0,"e":2.2},{"t":1987,"v":-2.1,"e":2.2},{"t":1988,"v":-2.6,"e":2.2},{"t":1989,"v":-2.5,"e":2.2},
{"t":1990,"v":-3.2,"e":2.8},{"t":1991,"v":-1.7,"e":1.7},{"t":1992,"v":-0.9,"e":1.3},{"t":1993,"v":2.3,"e":2.2},{"t":1994,"v":-3.1,"e":2.8},{"t":1995,"v":3.8,"e":2.8},{"t":1996,"v":1.3,"e":1.7},{"t":1997,"v":-0.3,"e":1.3},{"t":1998,"v":5.2,"e":3.5},{"t":1999,"v":-0.3,"e":1.3},
{"t":2000,"v":-0.9,"e":1.3},{"t":2001,"v":-1.9,"e":1.7},{"t":2002,"v":-2.4,"e":2.2},{"t":2003,"v":-0.4,"e":1.3},{"t":2004,"v":-2.1,"e":2.2},{"t":2005,"v":3.9,"e":2.8}
],
"ca":[
{"t":1895,"v":1.4},{"t":1896,"v":-0.5},{"t":1897,"v":0.8},{"t":1898,"v":-3.4},{"t":1899,"v":-1.6},{"t":1900,"v":0.5},{"t":1901,"v":1.8},{"t":1902,"v":-0.3},{"t":1903,"v":0.6},{"t":1904,"v":2.5},
{"t":1905,"v":1.2},{"t":1906,"v":4.6},{"t":1907,"v":4.2},{"t":1908,"v":-1.9},{"t":1909,"v":2.9},{"t":1910,"v":-0.4},{"t":1911,"v":3.1},{"t":1912,"v":-2.1},{"t":1913,"v":-1.5},{"t":1914,"v":3.8},
{"t":1915,"v":2.2},{"t":1916,"v":4.6},{"t":1917,"v":0.3},{"t":1918,"v":-1.2},{"t":1919,"v":-1.0},{"t":1920,"v":-2.3},{"t":1921,"v":0.4},{"t":1922,"v":1.6},{"t":1923,"v":-1.8},{"t":1924,"v":-4.1},
{"t":1925,"v":-0.9},{"t":1926,"v":-0.5},{"t":1927,"v":1.5},{"t":1928,"v":-1.9},{"t":1929,"v":-2.8},{"t":1930,"v":-1.2},{"t":1931,"v":-3.3},{"t":1932,"v":1.2},{"t":1933,"v":-1.7},{"t":1934,"v":-3.0},
{"t":1935,"v":0.9},{"t":1936,"v":1.0},{"t":1937,"v":2.3},{"t":1938,"v":4.2},{"t":1939,"v":-0.8},{"t":1940,"v":1.6},{"t":1941,"v":5.4},{"t":1942,"v":2.7},{"t":1943,"v":1.1},{"t":1944,"v":-0.6},
{"t":1945,"v":0.5},{"t":1946,"v":-0.3},{"t":1947,"v":-2.3},{"t":1948,"v":-1.8},{"t":1949,"v":-1.5},{"t":1950,"v":-0.2},{"t":1951,"v":0.8},{"t":1952,"v":3.0},{"t":1953,"v":-1.4},{"t":1954,"v":0.1},
{"t":1955,"v":-1.0},{"t":1956,"v":1.8},{"t":1957,"v":-0.6},{"t":1958,"v":3.5},{"t":1959,"v":-3.7},{"t":1960,"v":-2.4},{"t":1961,"v":-3.2},{"t":1962,"v":0.3},{"t":1963,"v":1.2},{"t":1964,"v":-1.8},
{"t":1965,"v":0.9},{"t":1966,"v":-1.3},{"t":1967,"v":2.6},{"t":1968,"v":-1.6},{"t":1969,"v":3.4},{"t":1970,"v":0.2},{"t":1971,"v":-0.9},{"t":1972,"v":-2.5},{"t":1973,"v":2.2},{"t":1974,"v":1.4},
{"t":1975,"v":0.1},{"t":1976,"v":-3.5},{"t":1977,"v":-4.0},{"t":1978,"v":4.6},{"t":1979,"v":1.0},{"t":1980,"v":2.8},{"t":1981,"v":-2.2},{"t":1982,"v":3.9},{"t":1983,"v":6.75},{"t":1984,"v":0.8},
{"t":1985,"v":-1.9},{"t":1986,"v":2.5},{"t":1987,"v":-2.6},{"t":1988,"v":-3.2},{"t":1989,"v":-3.1},{"t":1990,"v":-3.9},{"t":1991,"v":-2.1},{"t":1992,"v":-1.1},{"t":1993,"v":2.8},{"t":1994,"v":-3.8},
{"t":1995,"v":4.7},{"t":1996,"v":1.6},{"t":1997,"v":-0.5},{"t":1998,"v":6.8},{"t":1999,"v":-0.4},{"t":2000,"v":-1.1},{"t":2001,"v":-2.3},{"t":2002,"v":-2.9},{"t":2003,"v":-0.6},{"t":2004,"v":-2.6},
{"t":2005,"v":5.1},{"t":2006,"v":2.2},{"t":2007,"v":-5.3},{"t":2008,"v":-3.5},{"t":2009,"v":-3.6},{"t":2010,"v":-0.2},{"t":2011,"v":2.5},{"t":2012,"v":-0.6},{"t":2013,"v":-3.8},{"t":2014,"v":-6.9}
]},
"resolve":{"axis":{"x":"independent","y":"independent"}},
"layer":[
{"data":{"name":"nada"},
 "mark":{"type":"errorband","color":"#bdbdbd","opacity":1,"clip":true,"band":{"color":"#bdbdbd","opacity":1,"fillOpacity":1}},
 "encoding":{
  "x":{"field":"t","type":"quantitative","scale":{"domain":[800,2015],"nice":false,"zero":false},"axis":null},
  "y":{"field":"v","type":"quantitative","scale":{"domain":[-8,8],"nice":false,"zero":false},"axis":null},
  "yError":{"field":"e"}}},
{"data":{"name":"nada"},
 "mark":{"type":"line","strokeWidth":2.8,"clip":true},
 "encoding":{
  "x":{"field":"t","type":"quantitative","scale":{"domain":[800,2015],"nice":false,"zero":false},
   "axis":{"orient":"bottom","values":[800,1000,1200,1400,1600,1800,2000],"format":"d","tickSize":-16,"labelPadding":31,"labelFontSize":44,"labelFlush":false,"title":"YEAR","titleFontSize":54,"titleX":840,"titleY":104,"titleBaseline":"middle","titleAlign":"center"}},
  "y":{"field":"v","type":"quantitative","scale":{"domain":[-8,8],"nice":false,"zero":false},
   "axis":{"orient":"left","values":[-5,0,5],"tickSize":-18,"labelPadding":30,"labelFontSize":44,"title":"PDSI","titleFontSize":54,"titleAngle":270,"titleX":-98,"titleY":275,"titleBaseline":"middle","titleAlign":"center"}},
  "color":{"datum":"NADA [33–38N,118–125W]","type":"nominal","scale":{"domain":["NADA [33–38N,118–125W]","CA Divisions 4–7","2014 (JJA)"],"range":["#000000","#ff0000","#ff3030"]},
   "legend":{"orient":"none","legendX":33,"legendY":-83,"direction":"horizontal","columns":3,"title":null,"symbolType":"stroke","symbolSize":11449,"symbolStrokeWidth":2.5,"labelFont":"Liberation Sans","labelFontWeight":"bold","labelFontSize":46,"labelColor":"#000000","labelOffset":20,"columnPadding":22,"labelLimit":2000}},
  "strokeDash":{"datum":"NADA [33–38N,118–125W]","type":"nominal","scale":{"domain":["NADA [33–38N,118–125W]","CA Divisions 4–7","2014 (JJA)"],"range":[[1,0],[1,0],[24,24]]},
   "legend":{"orient":"none","legendX":33,"legendY":-83,"direction":"horizontal","columns":3,"title":null,"symbolType":"stroke","symbolSize":11449,"symbolStrokeWidth":2.5,"labelFont":"Liberation Sans","labelFontWeight":"bold","labelFontSize":46,"labelColor":"#000000","labelOffset":20,"columnPadding":22,"labelLimit":2000}}}},
{"data":{"values":[{}]},
 "mark":{"type":"rule","strokeWidth":2.5},
 "encoding":{
  "y":{"datum":-6.9,"type":"quantitative","scale":{"domain":[-8,8],"nice":false,"zero":false},"axis":null},
  "color":{"datum":"2014 (JJA)","type":"nominal"},
  "strokeDash":{"datum":"2014 (JJA)","type":"nominal"}}},
{"data":{"name":"ca"},
 "mark":{"type":"line","strokeWidth":2.5,"clip":true},
 "encoding":{
  "x":{"field":"t","type":"quantitative","scale":{"domain":[800,2015],"nice":false,"zero":false},
   "axis":{"orient":"top","values":[800,1000,1200,1400,1600,1800,2000],"tickSize":-16,"labels":false,"title":null}},
  "y":{"field":"v","type":"quantitative","scale":{"domain":[-8,8],"nice":false,"zero":false},
   "axis":{"orient":"right","values":[-5,0,5],"tickSize":-18,"labels":false,"title":null}},
  "color":{"datum":"CA Divisions 4–7","type":"nominal"},
  "strokeDash":{"datum":"CA Divisions 4–7","type":"nominal"}}},
{"data":{"values":[{}]},
 "mark":{"type":"point","shape":"M0,-1L0.2245,-0.309L0.951,-0.309L0.363,0.118L0.588,0.809L0,0.382L-0.588,0.809L-0.363,0.118L-0.951,-0.309L-0.2245,-0.309Z","filled":true,"color":"#ff0000","size":2766,"opacity":1,"strokeWidth":0},
 "encoding":{
  "x":{"datum":2014,"type":"quantitative","axis":null},
  "y":{"datum":-6.9,"type":"quantitative","axis":null}}},
{"data":{"values":[{}]},
 "mark":{"type":"text","text":"C.","font":"Liberation Sans","fontWeight":"bold","fontSize":44,"align":"left","baseline":"middle","color":"#000000"},
 "encoding":{
  "x":{"datum":826,"type":"quantitative","axis":null},
  "y":{"datum":6.3,"type":"quantitative","axis":null}}}
]
}
